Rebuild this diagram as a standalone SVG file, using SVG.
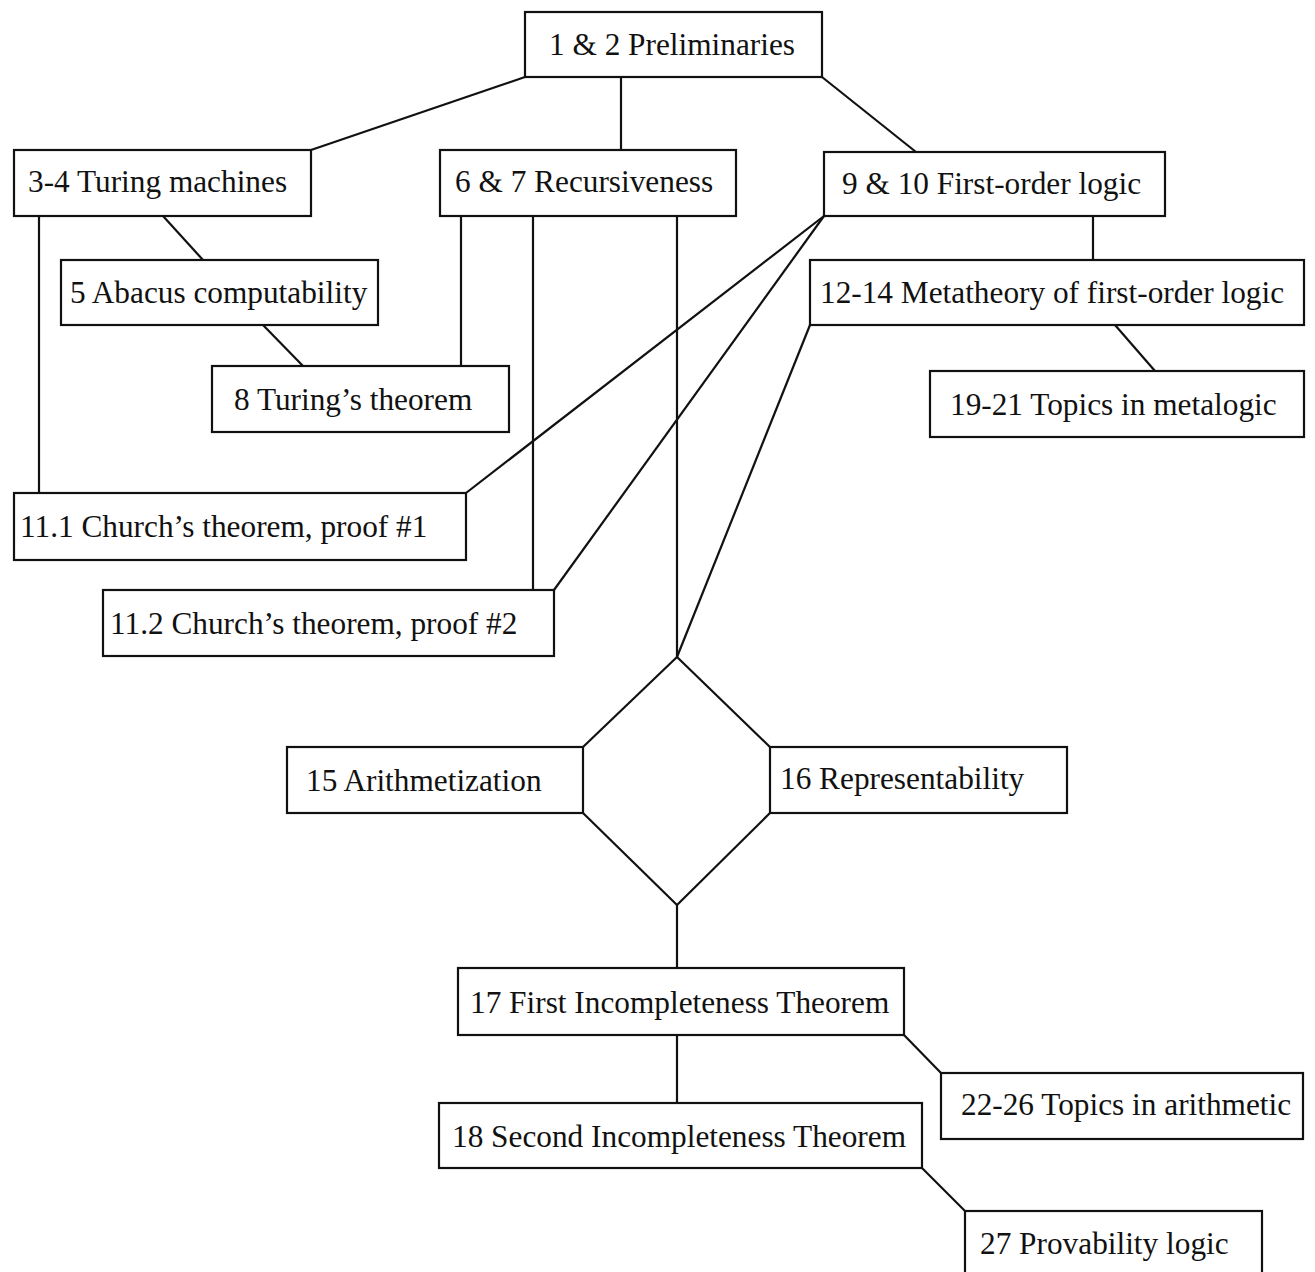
<svg xmlns="http://www.w3.org/2000/svg" width="1315" height="1272" viewBox="0 0 1315 1272">
<style>
rect{fill:#fff;stroke:#111;stroke-width:2.2}
line{stroke:#111;stroke-width:2.2}
text{font-family:"Liberation Serif","Times New Roman",serif;font-size:31.3px;fill:#111}
</style>
<rect x="0" y="0" width="1315" height="1272" style="stroke:none"/>
<g id="connectors">
<line x1="525" y1="77" x2="311" y2="150"/>
<line x1="621" y1="77" x2="621" y2="150"/>
<line x1="822" y1="77" x2="916" y2="152"/>
<line x1="163" y1="216" x2="203" y2="260"/>
<line x1="39" y1="216" x2="39" y2="493"/>
<line x1="263" y1="325" x2="303" y2="366"/>
<line x1="461" y1="216" x2="461" y2="366"/>
<line x1="533" y1="216" x2="533" y2="590"/>
<line x1="677" y1="216" x2="677" y2="657"/>
<line x1="824" y1="216" x2="466" y2="493"/>
<line x1="824" y1="216" x2="554" y2="590"/>
<line x1="1093" y1="216" x2="1093" y2="260"/>
<line x1="810" y1="325" x2="677" y2="657"/>
<line x1="1115" y1="325" x2="1155" y2="371"/>
<line x1="677" y1="657" x2="583" y2="747"/>
<line x1="677" y1="657" x2="770" y2="747"/>
<line x1="583" y1="813" x2="677" y2="905"/>
<line x1="770" y1="813" x2="677" y2="905"/>
<line x1="677" y1="905" x2="677" y2="968"/>
<line x1="677" y1="1035" x2="677" y2="1103"/>
<line x1="904" y1="1035" x2="941" y2="1073"/>
<line x1="922" y1="1168" x2="965" y2="1211"/>
</g>
<g id="n1"><rect x="525" y="12" width="297" height="65"/><text x="549" y="55">1 &amp; 2 Preliminaries</text></g>
<g id="n3"><rect x="14" y="150" width="297" height="66"/><text x="28" y="192">3-4 Turing machines</text></g>
<g id="n6"><rect x="440" y="150" width="296" height="66"/><text x="455" y="192">6 &amp; 7 Recursiveness</text></g>
<g id="n9"><rect x="824" y="152" width="341" height="64"/><text x="842" y="194">9 &amp; 10 First-order logic</text></g>
<g id="n5"><rect x="61" y="260" width="317" height="65"/><text x="70" y="303">5 Abacus computability</text></g>
<g id="n12"><rect x="810" y="260" width="494" height="65"/><text x="820" y="303">12-14 Metatheory of first-order logic</text></g>
<g id="n8"><rect x="212" y="366" width="297" height="66"/><text x="234" y="410">8 Turing’s theorem</text></g>
<g id="n19"><rect x="930" y="371" width="374" height="66"/><text x="950" y="415">19-21 Topics in metalogic</text></g>
<g id="n11a"><rect x="14" y="493" width="452" height="67"/><text x="20" y="537">11.1 Church’s theorem, proof #1</text></g>
<g id="n11b"><rect x="103" y="590" width="451" height="66"/><text x="110" y="634">11.2 Church’s theorem, proof #2</text></g>
<g id="n15"><rect x="287" y="747" width="296" height="66"/><text x="306" y="791">15 Arithmetization</text></g>
<g id="n16"><rect x="770" y="747" width="297" height="66"/><text x="780" y="789">16 Representability</text></g>
<g id="n17"><rect x="458" y="968" width="446" height="67"/><text x="470" y="1013">17 First Incompleteness Theorem</text></g>
<g id="n22"><rect x="941" y="1073" width="362" height="66"/><text x="961" y="1115">22-26 Topics in arithmetic</text></g>
<g id="n18"><rect x="439" y="1103" width="483" height="65"/><text x="452" y="1147">18 Second Incompleteness Theorem</text></g>
<g id="n27"><rect x="965" y="1211" width="297" height="70"/><text x="980" y="1254">27 Provability logic</text></g>
</svg>
